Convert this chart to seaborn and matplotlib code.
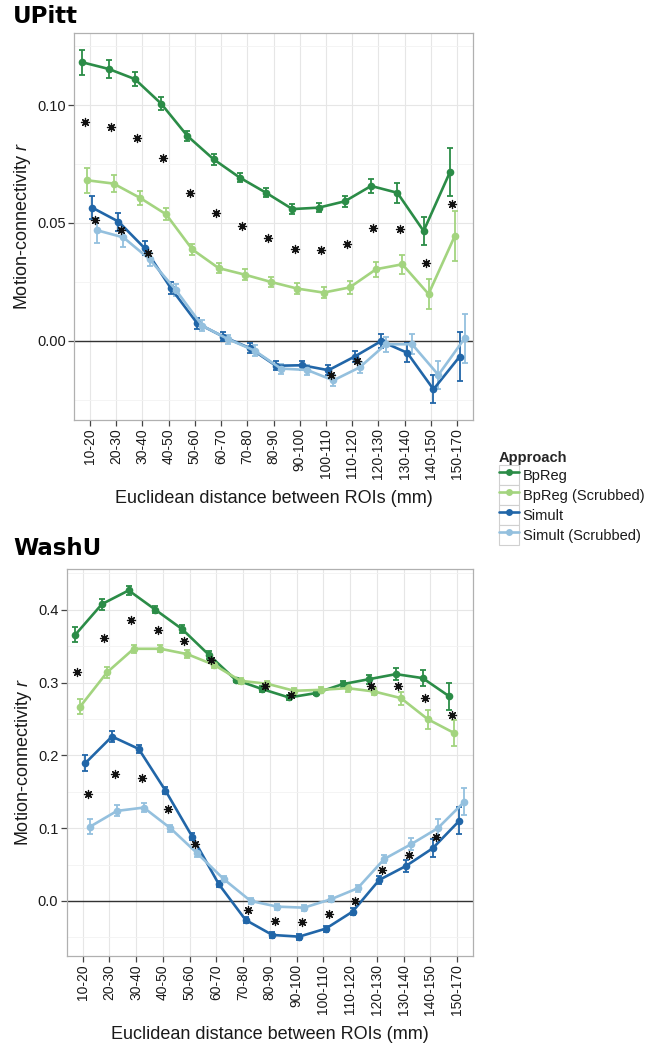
import numpy as np
import pandas as pd
import matplotlib
matplotlib.use("Agg")
import matplotlib.pyplot as plt
import seaborn as sns
from matplotlib.lines import Line2D
from matplotlib.patches import Patch
from matplotlib.legend_handler import HandlerTuple
from matplotlib.ticker import MultipleLocator

nan = np.nan

categories = ['10-20', '20-30', '30-40', '40-50', '50-60', '60-70', '70-80', '80-90',
              '90-100', '100-110', '110-120', '120-130', '130-140', '140-150', '150-170']
approaches = ['BpReg', 'BpReg (Scrubbed)', 'Simult', 'Simult (Scrubbed)']
colors = ['#2b8c47', '#a3d47f', '#2166a8', '#94c0de']

# ---------------- UPitt ----------------
upitt_bpreg = [0.1181, 0.1153, 0.1110, 0.1006, 0.0869, 0.0770, 0.0692, 0.0628,
               0.0559, 0.0565, 0.0592, 0.0657, 0.0628, 0.0466, 0.0715]
upitt_bpreg_err = [0.0052, 0.0037, 0.0029, 0.0028, 0.0023, 0.0023, 0.0020, 0.0019,
                   0.0020, 0.0019, 0.0023, 0.0028, 0.0042, 0.0061, 0.0102]
upitt_bpreg_s = [0.0681, 0.0667, 0.0607, 0.0537, 0.0388, 0.0309, 0.0281, 0.0250,
                 0.0222, 0.0205, 0.0227, 0.0304, 0.0325, 0.0199, 0.0445]
upitt_bpreg_s_err = [0.0054, 0.0037, 0.0030, 0.0025, 0.0025, 0.0023, 0.0023, 0.0023,
                     0.0022, 0.0023, 0.0027, 0.0032, 0.0040, 0.0064, 0.0104]
upitt_simult = [0.0565, 0.0506, 0.0393, 0.0223, 0.0075, 0.0018, -0.0030, -0.0105,
                -0.0103, -0.0124, -0.0066, -0.0001, -0.0050, -0.0205, -0.0066]
upitt_simult_err = [0.0050, 0.0038, 0.0029, 0.0025, 0.0023, 0.0020, 0.0020, 0.0019,
                    0.0020, 0.0022, 0.0025, 0.0030, 0.0040, 0.0059, 0.0102]
upitt_simult_s = [0.0469, 0.0439, 0.0346, 0.0216, 0.0065, 0.0007, -0.0041, -0.0117,
                  -0.0123, -0.0167, -0.0112, -0.0014, -0.0014, -0.0144, 0.0011]
upitt_simult_s_err = [0.0052, 0.0039, 0.0028, 0.0025, 0.0022, 0.0020, 0.0022, 0.0021,
                      0.0021, 0.0023, 0.0023, 0.0032, 0.0042, 0.0061, 0.0104]
upitt_star_bpreg = [0.0929, 0.0905, 0.0859, 0.0774, 0.0628, 0.0541, 0.0487, 0.0438,
                    0.0389, 0.0384, 0.0410, 0.0478, 0.0475, 0.0329, 0.0579]
upitt_star_simult = [0.0513, 0.0470, 0.0372, nan, nan, nan, nan, nan,
                     nan, -0.0144, -0.0085, nan, nan, nan, nan]

# ---------------- WashU ----------------
washu_bpreg = [0.3656, 0.4078, 0.4266, 0.4000, 0.3734, 0.3381, 0.3038, 0.2910,
               0.2795, 0.2855, 0.2978, 0.3047, 0.3116, 0.3061, 0.2809]
washu_bpreg_err = [0.0103, 0.0076, 0.0057, 0.0050, 0.0050, 0.0053, 0.0030, 0.0040,
                   0.0040, 0.0030, 0.0050, 0.0062, 0.0080, 0.0115, 0.0179]
washu_bpreg_s = [0.2671, 0.3139, 0.3464, 0.3464, 0.3391, 0.3244, 0.3024, 0.2983,
                 0.2887, 0.2900, 0.2923, 0.2877, 0.2786, 0.2497, 0.2305]
washu_bpreg_s_err = [0.0103, 0.0076, 0.0057, 0.0050, 0.0050, 0.0050, 0.0040, 0.0040,
                     0.0040, 0.0040, 0.0050, 0.0050, 0.0090, 0.0130, 0.0180]
washu_simult = [0.1892, 0.2259, 0.2089, 0.1517, 0.0885, 0.0229, -0.0261, -0.0467,
                -0.0490, -0.0380, -0.0147, 0.0289, 0.0481, 0.0724, 0.1104]
washu_simult_err = [0.0108, 0.0076, 0.0060, 0.0050, 0.0050, 0.0040, 0.0040, 0.0040,
                    0.0040, 0.0040, 0.0050, 0.0050, 0.0085, 0.0124, 0.0180]
washu_simult_s = [0.1022, 0.1237, 0.1283, 0.0999, 0.0655, 0.0298, 0.0000, -0.0078,
                  -0.0092, 0.0023, 0.0174, 0.0577, 0.0779, 0.0999, 0.1365]
washu_simult_s_err = [0.0108, 0.0076, 0.0060, 0.0050, 0.0050, 0.0040, 0.0040, 0.0040,
                      0.0040, 0.0040, 0.0050, 0.0060, 0.0085, 0.0130, 0.0183]
washu_star_bpreg = [0.3152, 0.3611, 0.3863, 0.3725, 0.3565, 0.3313, nan, 0.2946,
                    0.2832, nan, nan, 0.2955, 0.2955, 0.2786, 0.2548]
washu_star_simult = [0.1466, 0.1741, 0.1695, 0.1260, 0.0779, nan, -0.0124, -0.0275,
                     -0.0293, -0.0179, 0.0005, 0.0426, 0.0632, 0.0884, nan]

# ---------------- style ----------------
sns.set_theme(style="white")
plt.rcParams['font.family'] = ['Liberation Sans', 'DejaVu Sans']
plt.rcParams['mathtext.fontset'] = 'custom'
plt.rcParams['mathtext.it'] = 'Liberation Sans:italic'
plt.rcParams['mathtext.rm'] = 'Liberation Sans'

TEXT = '#1a1a1a'
palette = dict(zip(approaches, colors))
dodge_w = 0.75
offsets = (np.arange(4) - 1.5) * dodge_w / 4
star_off = 0.2


def build_df(series, errs):
    rows = []
    for k, (name, vals, ee) in enumerate(zip(approaches, series, errs)):
        for i, (v, e) in enumerate(zip(vals, ee)):
            rows.append(dict(Approach=name, idx=i, x=i + offsets[k], y=v, err=e))
    return pd.DataFrame(rows)


def draw_panel(ax, series, errs, stars_bp, stars_sim, ylim, major, minor, fmt):
    df = build_df(series, errs)
    ax.set_axisbelow(True)
    ax.set_xticks(range(len(categories)))
    ax.yaxis.set_major_locator(MultipleLocator(major))
    ax.yaxis.set_minor_locator(MultipleLocator(minor))
    ax.grid(which='major', color='#e6e6e6', linewidth=0.8)
    ax.grid(which='minor', axis='y', color='#f2f2f2', linewidth=0.6)
    ax.axhline(0, color='#333333', linewidth=1.0, zorder=1.5)
    for name in approaches:
        sub = df[df.Approach == name]
        ax.errorbar(sub.x, sub.y, yerr=sub.err, fmt='none', ecolor=palette[name],
                    elinewidth=1.3, capsize=2.4, capthick=1.3, zorder=2)
    sns.lineplot(data=df, x='x', y='y', hue='Approach', hue_order=approaches,
                 palette=palette, marker='o', markersize=5.5, markeredgewidth=0,
                 linewidth=1.9, estimator=None, sort=True, legend=False, ax=ax, zorder=3)
    sdf = pd.DataFrame({
        'x': list(np.arange(len(categories)) - star_off) + list(np.arange(len(categories)) + star_off),
        'y': list(stars_bp) + list(stars_sim)}).dropna()
    ax.scatter(sdf.x, sdf.y, marker=(8, 2, 0), s=34, color='#111111', linewidths=0.9, zorder=5)
    ax.set_xlim(-0.6, len(categories) - 1 + 0.6)
    ax.set_ylim(*ylim)
    ax.set_xticklabels(categories, rotation=90, fontsize=10, color=TEXT)
    ax.yaxis.set_major_formatter(matplotlib.ticker.FormatStrFormatter(fmt))
    for lab in ax.get_yticklabels():
        lab.set_fontsize(10.5)
        lab.set_color(TEXT)
    ax.tick_params(axis='both', which='major', length=4, width=0.9, color='#444444',
                   bottom=True, left=True, pad=2)
    ax.tick_params(axis='y', which='minor', length=0)
    for sp in ax.spines.values():
        sp.set_color('#b0b0b0')
        sp.set_linewidth(0.9)
    ax.set_xlabel('Euclidean distance between ROIs (mm)', fontsize=13, color=TEXT, labelpad=8)
    ax.set_ylabel('Motion-connectivity $r$', fontsize=13, color=TEXT, labelpad=3)


W, H = 650, 1049
fig = plt.figure(figsize=(W / 100, H / 100), dpi=100)
ax1 = fig.add_axes([74 / W, 1 - 420 / H, (473 - 74) / W, (420 - 33.3) / H])
ax2 = fig.add_axes([66.7 / W, 1 - 956 / H, (473 - 66.7) / W, (956 - 569) / H])

draw_panel(ax1,
           [upitt_bpreg, upitt_bpreg_s, upitt_simult, upitt_simult_s],
           [upitt_bpreg_err, upitt_bpreg_s_err, upitt_simult_err, upitt_simult_s_err],
           upitt_star_bpreg, upitt_star_simult, (-0.0335, 0.1304), 0.05, 0.025, '%.2f')
draw_panel(ax2,
           [washu_bpreg, washu_bpreg_s, washu_simult, washu_simult_s],
           [washu_bpreg_err, washu_bpreg_s_err, washu_simult_err, washu_simult_s_err],
           washu_star_bpreg, washu_star_simult, (-0.0756, 0.456), 0.1, 0.05, '%.1f')

fig.text(13 / W, 1 - 5 / H, 'UPitt', fontsize=16.5, fontweight='bold',
         family='DejaVu Sans', va='top', ha='left', color='black')
fig.text(13 / W, 1 - 537 / H, 'WashU', fontsize=16.5, fontweight='bold',
         family='DejaVu Sans', va='top', ha='left', color='black')

handles = []
for name in approaches:
    box = Patch(facecolor='white', edgecolor='#d0d0d0', linewidth=0.8)
    ln = Line2D([], [], color=palette[name], marker='o', markersize=5, linewidth=1.9,
                markeredgewidth=0)
    handles.append((box, ln))
leg = fig.legend(handles, approaches, loc='upper left', bbox_to_anchor=(499 / W, 1 - 451 / H),
                 frameon=False, fontsize=10.5, title='Approach',
                 title_fontproperties={'weight': 'bold', 'size': 10.5},
                 handler_map={tuple: HandlerTuple(ndivide=1, pad=0)},
                 handlelength=1.37, handleheight=1.73, handletextpad=0.25,
                 labelspacing=0.0, borderpad=0, borderaxespad=0, alignment='left')
for t in leg.get_texts():
    t.set_color(TEXT)

fig.savefig('out.png', dpi=100, facecolor='white')
